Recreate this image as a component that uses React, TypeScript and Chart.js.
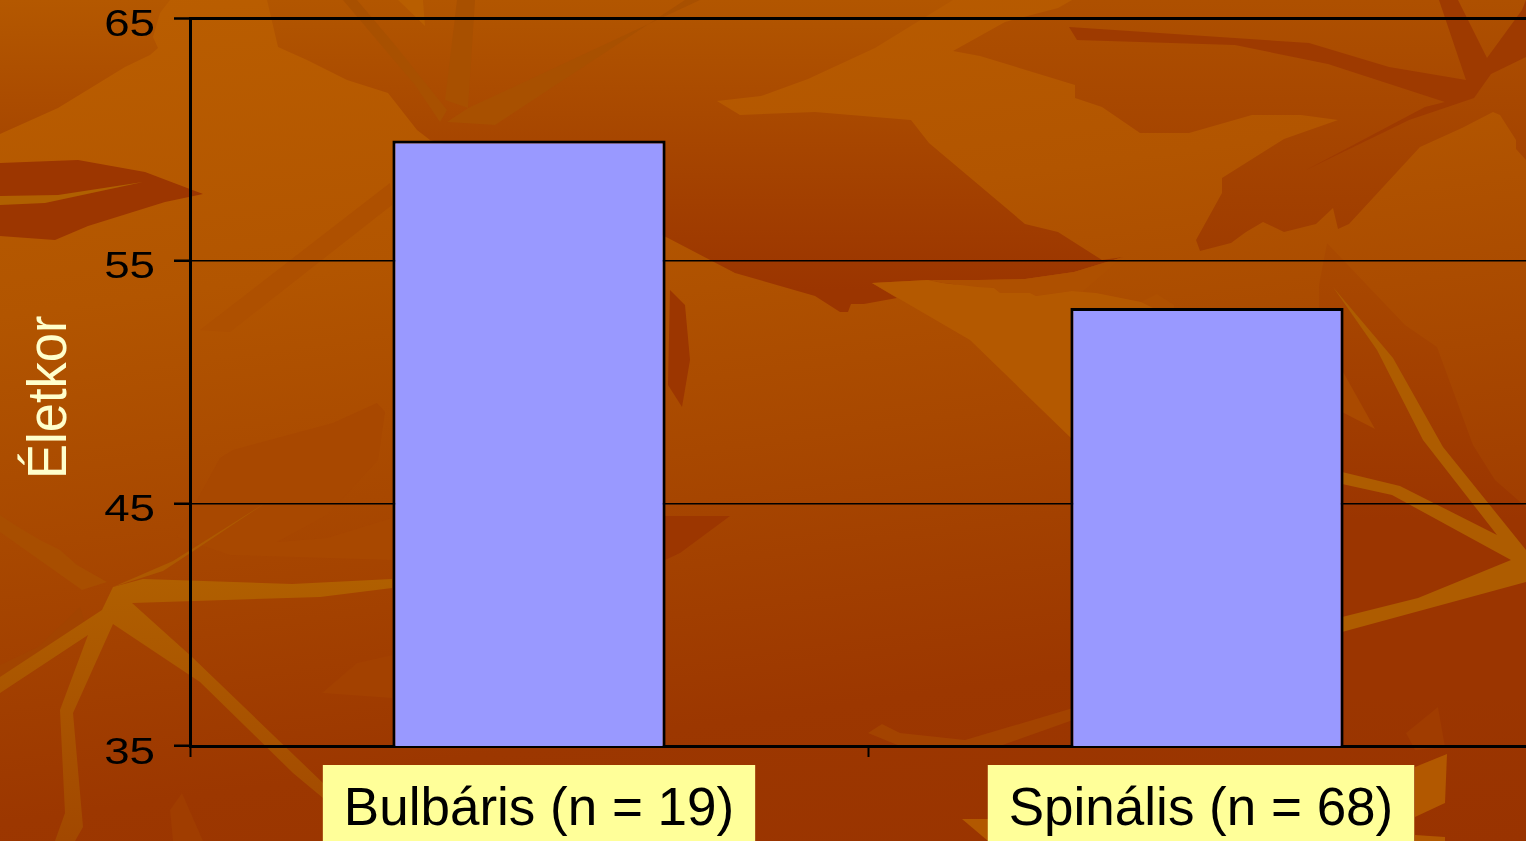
import React, { useEffect, useRef } from "react";
import { Chart, registerables } from "chart.js";

Chart.register(...registerables);

const categories = ["Bulbáris (n = 19)", "Spinális (n = 68)"];
const ages = [59.95, 53.05];
const yTicks = [35, 45, 55, 65];
const axisTitle = "Életkor";
const labelShifts = [10, -6];

const FONT = '"Liberation Sans", Arial, sans-serif';

const textPlugin = {
  id: "stretchedText",
  afterDraw(chart: any) {
    const ctx = chart.ctx as CanvasRenderingContext2D;
    const y = chart.scales.y;
    const x = chart.scales.x;
    ctx.save();
    ctx.fillStyle = "#000";
    ctx.font = `36px ${FONT}`;
    ctx.textAlign = "right";
    ctx.textBaseline = "alphabetic";
    y.ticks.forEach((t: any, i: number) => {
      ctx.save();
      ctx.translate(155, y.getPixelForTick(i) + 17.5);
      ctx.scale(1.27, 1);
      ctx.fillText(String(t.value), 0, 0);
      ctx.restore();
    });
    ctx.save();
    ctx.translate(66, 479);
    ctx.rotate(-Math.PI / 2);
    ctx.scale(1.05, 1.12);
    ctx.font = `50px ${FONT}`;
    ctx.textAlign = "left";
    ctx.fillStyle = "#FFFFCC";
    ctx.fillText(axisTitle, 0, 0);
    ctx.restore();
    categories.forEach((c, i) => {
      ctx.font = `53px ${FONT}`;
      ctx.textAlign = "center";
      const w = ctx.measureText(c).width + 42;
      const cx = x.getPixelForTick(i) + labelShifts[i];
      ctx.fillStyle = "#FFFF99";
      ctx.fillRect(cx - w / 2, 765, w, 80);
      ctx.fillStyle = "#000";
      ctx.fillText(c, cx, 825);
    });
    ctx.restore();
  },
};

const shapes: [string, string][] = [
  ["0,134 58,108 125,67 150,55 158,48 153,37 160,13 170,0 0,0", "url(#gTopLeft)"],
  ["267,0 278,47 307,60 347,80 388,93 417,130 430,140 500,160 668,238 735,273 815,296 840,312 848,312 851,304 864,304 897,298 872,283 928,280 953,285 978,280 1025,279 1074,272 1123,257 1102,260 1058,232 1025,224 929,143 911,120 815,112 740,115 717,101 761,96 808,79 875,48 953,0", "url(#gCenter)"],
  ["1123,257 1074,272 1025,279 978,280 928,280 942,283 961,285 978,287 994,288 1000,293 1030,293 1036,296 1072,291 1096,293 1141,302 1157,294 1174,305 1174,310 1073,310 1073,300", "#AE5000"],
  ["872,283 928,280 942,283 961,285 978,287 994,288 1000,293 1030,293 1036,296 1072,291 1096,293 1141,302 1157,310 1073,312 1073,440 970,340", "#B45900"],
  ["670,290 685,305 690,360 682,407 668,385", "#9C3600"],
  ["665,516 730,516 680,553 665,560", "#9C3600"],
  ["953,51 1005,22 1058,8 1072,0 1526,0 1526,160 1516,149 1516,140 1500,115 1493,112 1462,128 1420,147 1349,224 1338,229 1333,208 1316,224 1284,232 1263,222 1246,232 1231,243 1200,251 1196,240 1222,193 1222,178 1284,139 1338,120 1301,115 1252,115 1189,133 1140,133 1102,107 1075,98 1075,85 980,56", "url(#gTopRight)"],
  ["1069,27 1309,43 1389,67 1466,80 1439,0 1458,0 1487,58 1522,10 1526,0 1526,57 1491,74 1474,98 1409,120 1306,170 1425,107 1445,102 1328,64 1235,45 1077,40", "#9E3A00"],
  ["0,163 78,160 145,172 203,194 165,202 88,226 55,240 0,236", "#9C3600"],
  ["1327,243 1405,325 1437,347 1473,445 1495,480 1526,507 1526,700 1340,700 1320,400 1319,285", "url(#gLowRight)"],
  ["177,537 220,458 233,450 333,423 377,403 385,412 378,460 327,515 277,542 327,538 392,518 392,560 230,555", "#A84800"],
  ["322,693 357,663 392,655 392,698", "#A34100"],
  ["170,810 182,793 203,841 173,841", "#A03D00"],
  ["0,665 38,647 80,607 88,635 0,693", "#A24400"],
  ["868,733 882,724 900,733 965,740 1073,708 1073,720 1000,746 900,746", "#A34300"],
  ["1406,733 1438,707 1445,747 1415,750", "#A03C00"],
  ["1342,370 1375,429 1342,412", "#AA4A00"],
  ["457,0 475,0 468,108 445,100", "#A85000"],
  ["343,0 357,0 395,45 447,110 440,122 415,85", "#A85000"],
  ["468,108 700,0 685,0 495,125 447,122", "#A85000"],
  ["200,330 390,183 392,205 230,332", "#AE5000"],
  ["0,515 15,525 40,540 60,550 77,565 107,582 82,590 0,532", "#A84E00"],
  ["398,0 423,0 425,26", "#B85E00"],
  ["0,196 58,195 143,182 45,203 0,205", "#B06000"],
  ["113,587 143,579 292,584 392,579 392,588 320,597 132,603 192,657 323,783 323,798 293,773 200,682 113,624 73,713 83,827 75,841 55,841 65,813 60,710 88,635 0,693 0,677 102,610", "url(#gVein)"],
  ["113,587 173,561 270,500 192,552 163,571", "#AD5900"],
  ["1333,287 1393,358 1443,447 1526,550 1526,582 1342,632 1342,617 1418,598 1511,560 1392,495 1342,484 1342,472 1400,486 1497,535 1423,440 1377,350", "#AE5C00"],
  ["1415,767 1447,754 1445,803 1415,817", "#B25800"],
  ["1415,835 1445,837 1445,841 1415,841", "#B25800"],
  ["962,819 988,819 988,841", "#B25800"],
];

export default function App() {
  const ref = useRef<HTMLCanvasElement>(null);
  useEffect(() => {
    document.body.style.margin = "0";
    document.body.style.overflow = "hidden";
    const chart = new Chart(ref.current!, {
      type: "bar",
      data: {
        labels: categories,
        datasets: [
          {
            data: ages,
            backgroundColor: "#9999FF",
            borderColor: "#000",
            borderWidth: 3,
            barPercentage: 0.403,
            categoryPercentage: 1,
          },
        ],
      },
      plugins: [textPlugin],
      options: {
        animation: false,
        responsive: false,
        maintainAspectRatio: false,
        layout: { padding: { top: 18, left: 0, right: 0, bottom: 0 } },
        plugins: { legend: { display: false }, tooltip: { enabled: false } },
        scales: {
          x: {
            afterFit: (s: any) => {
              s.height = 95;
            },
            border: { color: "#000", width: 3 },
            grid: {
              offset: true,
              drawOnChartArea: false,
              drawTicks: true,
              tickLength: 11,
              tickColor: "#000",
              tickWidth: 2,
            },
            ticks: { display: false },
          },
          y: {
            min: yTicks[0],
            max: yTicks[yTicks.length - 1],
            afterFit: (s: any) => {
              s.width = 190;
            },
            afterBuildTicks: (s: any) => {
              s.ticks = yTicks.map((value) => ({ value }));
            },
            border: { color: "#000", width: 3 },
            grid: {
              color: "#000",
              lineWidth: (c: any) => (c.tick && c.tick.value === 65 ? 3 : 1.5),
              drawTicks: true,
              tickLength: 16,
              tickColor: "#000",
              tickWidth: 2.5,
            },
            ticks: { display: false },
          },
        },
      },
    } as any);
    return () => chart.destroy();
  }, []);
  const stops = (id: string, y1: number, y2: number, a: string, b: string) => (
    <linearGradient id={id} gradientUnits="userSpaceOnUse" x1={0} y1={y1} x2={0} y2={y2}>
      <stop offset="0" stopColor={a} />
      <stop offset="1" stopColor={b} />
    </linearGradient>
  );
  return (
    <div
      style={{
        position: "relative",
        width: 1526,
        height: 841,
        overflow: "hidden",
        background: "linear-gradient(172deg,#BA5E00 0%,#B25500 30%,#A84800 52%,#9C3700 78%,#993300 100%)",
      }}
    >
      <svg width={1526} height={841} style={{ position: "absolute", left: 0, top: 0 }}>
        <defs>
          {stops("gTopLeft", 0, 134, "#B45800", "#A84800")}
          {stops("gCenter", 0, 290, "#B25600", "#9B3500")}
          {stops("gTopRight", 0, 250, "#AE5000", "#9F3C00")}
          {stops("gLowRight", 243, 520, "#AA4A00", "#9B3500")}
          {stops("gVein", 580, 841, "#B05F00", "#A24800")}
        </defs>
        {shapes.map(([p, f], i) => (
          <polygon key={i} points={p} fill={f} />
        ))}
      </svg>
      <canvas ref={ref} width={1546} height={841} style={{ position: "absolute", left: 0, top: 0 }} />
    </div>
  );
}
